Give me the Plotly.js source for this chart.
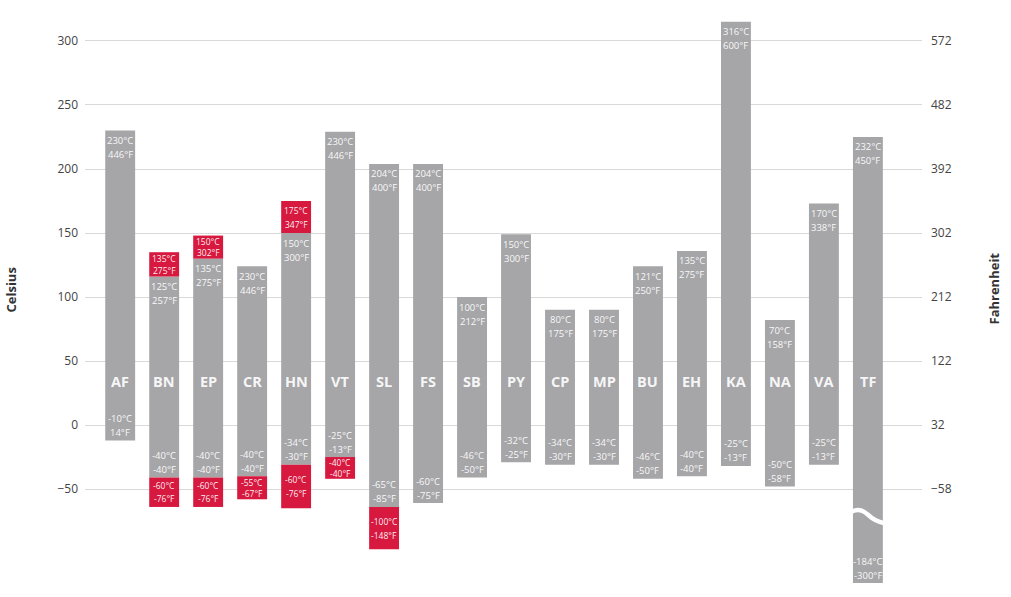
<!DOCTYPE html>
<html>
<head>
<meta charset="utf-8">
<script src="https://cdn.plot.ly/plotly-3.0.1.min.js"></script>
<style>html,body{margin:0;padding:0;background:#fff;}#chart{width:1011px;height:597px;}</style>
</head>
<body>
<div id="chart"></div>
<script>
// ---- data ----
const categories = ['AF','BN','EP','CR','HN','VT','SL','FS','SB','PY','CP','MP','BU','EH','KA','NA','VA','TF'];
// gray bar extents as drawn (°C)
const grayTop    = [230, 116, 130, 124, 150, 229, 204, 204, 100, 149, 90, 90, 124, 136, 315, 82, 173, 225];
const grayBottom = [-12, -41, -41, -40, -31, -25, -64, -61, -41, -29, -31, -31, -42, -40, -32, -48, -31, -184];
// red extensions as drawn (°C)
const redTop     = [null, 135, 148, null, 175, null, null, null, null, null, null, null, null, null, null, null, null, null];
const redBottom  = [null, -64, -64, -58, -65, -42, -97, null, null, null, null, null, null, null, null, null, null, null];
// label texts
const topC = ['230','125','135','230','150','230','204','204','100','150','80','80','121','135','316','70','170','232'];
const topF = ['446','257','275','446','300','446','400','400','212','300','175','175','250','275','600','158','338','450'];
const botC = ['-10','-40','-40','-40','-34','-25','-65','-60','-46','-32','-34','-34','-46','-40','-25','-50','-25','-184'];
const botF = ['14','-40','-40','-40','-30','-13','-85','-75','-50','-25','-30','-30','-50','-40','-13','-58','-13','-300'];
const redTopC = [null,'135','150',null,'175',null,null,null,null,null,null,null,null,null,null,null,null,null];
const redTopF = [null,'275','302',null,'347',null,null,null,null,null,null,null,null,null,null,null,null,null];
const redBotC = [null,'-60','-60','-55','-60','-40','-100',null,null,null,null,null,null,null,null,null,null,null];
const redBotF = [null,'-76','-76','-67','-76','-40','-148',null,null,null,null,null,null,null,null,null,null,null];
const celsiusTicks = [-50, 0, 50, 100, 150, 200, 250, 300];
const breakCategory = 'TF';
const breakAt = -70;

// ---- layout constants ----
const yMin = -123.4, yMax = 324.2;
const mT = 10, mB = 14, H = 597;
const pxPerC = (H - mT - mB) / (yMax - yMin);
const toF = c => c * 1.8 + 32;
const GRAY = '#a6a6a9', RED = '#d7193f';
const FONT = 'Open Sans, Segoe UI, DejaVu Sans, sans-serif';
const xs = categories.map((_, i) => i);
const BW = 0.68;

const traces = [
  {type:'bar', x: xs, base: grayBottom, y: grayTop.map((t,i)=>t-grayBottom[i]), width: BW,
   marker:{color:GRAY, line:{width:0}}, hoverinfo:'skip'},
  {type:'bar', x: xs, base: grayTop, y: redTop.map((t,i)=> t==null?null:t-grayTop[i]), width: BW,
   marker:{color:RED, line:{width:0}}, hoverinfo:'skip'},
  {type:'bar', x: xs, base: redBottom, y: redBottom.map((b,i)=> b==null?null:grayBottom[i]-b), width: BW,
   marker:{color:RED, line:{width:0}}, hoverinfo:'skip'},
  // right axis carrier
  {type:'scatter', x:[0], y:[toF(0)], yaxis:'y2', mode:'markers', marker:{opacity:0}, hoverinfo:'skip', showlegend:false}
];

const ann = [];
const lab = (x, y, text, shift, size, color, bold) => ann.push({
  x, y, xref:'x', yref:'y', text: bold ? '<b>'+text+'</b>' : text, showarrow:false,
  yanchor:'middle', xanchor:'center', yshift: shift, borderpad:0,
  font:{family:FONT, size:size, color:color}
});
const LC = 'rgba(255,255,255,0.95)';
categories.forEach((c, i) => {
  // top labels
  lab(i, grayTop[i], topC[i]+'°C', -10, 9.5, LC);
  lab(i, grayTop[i], topF[i]+'°F', -24, 9.5, LC);
  // bottom labels (relative to visible bottom)
  const vb = Math.max(grayBottom[i], yMin);
  lab(i, vb, botC[i]+'°C', 22, 9.5, LC);
  lab(i, vb, botF[i]+'°F', 8, 9.5, LC);
  // category label
  lab(i, 34, c, 0, 14.5, 'rgba(255,255,255,0.92)', true);
  // red top box
  if (redTop[i] != null) {
    const mid = (redTop[i] + grayTop[i]) / 2;
    const sp = Math.min(14, Math.max(11.5, 0.44 * (redTop[i] - grayTop[i]) * pxPerC)) / 2;
    lab(i, mid, redTopC[i]+'°C', sp, 8.5, LC);
    lab(i, mid, redTopF[i]+'°F', -sp, 8.5, LC);
  }
  if (redBottom[i] != null) {
    const mid = (redBottom[i] + grayBottom[i]) / 2;
    const sp = Math.min(14, Math.max(11.5, 0.44 * (grayBottom[i] - redBottom[i]) * pxPerC)) / 2;
    lab(i, mid, redBotC[i]+'°C', sp, 8.5, LC);
    lab(i, mid, redBotF[i]+'°F', -sp, 8.5, LC);
  }
});
// axis titles
ann.push({xref:'paper', yref:'paper', x:0, y:0.5, xanchor:'center', yanchor:'middle', xshift:-75, yshift:6,
  text:'<b>Celsius</b>', textangle:-90, showarrow:false, font:{family:FONT, size:13, color:'#333'}});
ann.push({xref:'paper', yref:'paper', x:1, y:0.5, xanchor:'center', yanchor:'middle', xshift:71, yshift:8,
  text:'<b>Fahrenheit</b>', textangle:-90, showarrow:false, font:{family:FONT, size:13, color:'#333'}});

// break marker for the truncated bar
const bi = categories.indexOf(breakCategory);
const l = bi - BW/2 - 0.02, r = bi + BW/2 + 0.02;
const shapes = [{
  type:'path', xref:'x', yref:'y',
  path:`M ${l},${breakAt+2.5} Q ${bi-0.17},${breakAt+5.5} ${bi},${breakAt} T ${r},${breakAt-6.5}`,
  line:{color:'#ffffff', width:4.5}, fillcolor:'rgba(0,0,0,0)', layer:'above'
}];

const layout = {
  width:1011, height:597,
  margin:{l:85, r:89, t:mT, b:mB},
  paper_bgcolor:'#fff', plot_bgcolor:'#fff',
  showlegend:false, barmode:'overlay',
  font:{family:FONT, color:'#444'},
  xaxis:{range:[-0.8, 18.23], showticklabels:false, showgrid:false, zeroline:false, showline:false, ticks:'', fixedrange:true},
  yaxis:{range:[yMin, yMax], tickvals:celsiusTicks, showgrid:true, gridcolor:'#d9d9d9', gridwidth:1,
         zeroline:false, showline:false, ticks:'', ticklabelstandoff:6, tickfont:{family:FONT, size:12, color:'#444'}},
  yaxis2:{overlaying:'y', side:'right', range:[toF(yMin), toF(yMax)], tickvals:celsiusTicks.map(toF),
          showgrid:false, zeroline:false, showline:false, ticks:'', ticklabelstandoff:8,
          tickfont:{family:FONT, size:12, color:'#444'}},
  annotations: ann,
  shapes: shapes
};
Plotly.newPlot('chart', traces, layout, {displayModeBar:false, staticPlot:true});
</script>
</body>
</html>
